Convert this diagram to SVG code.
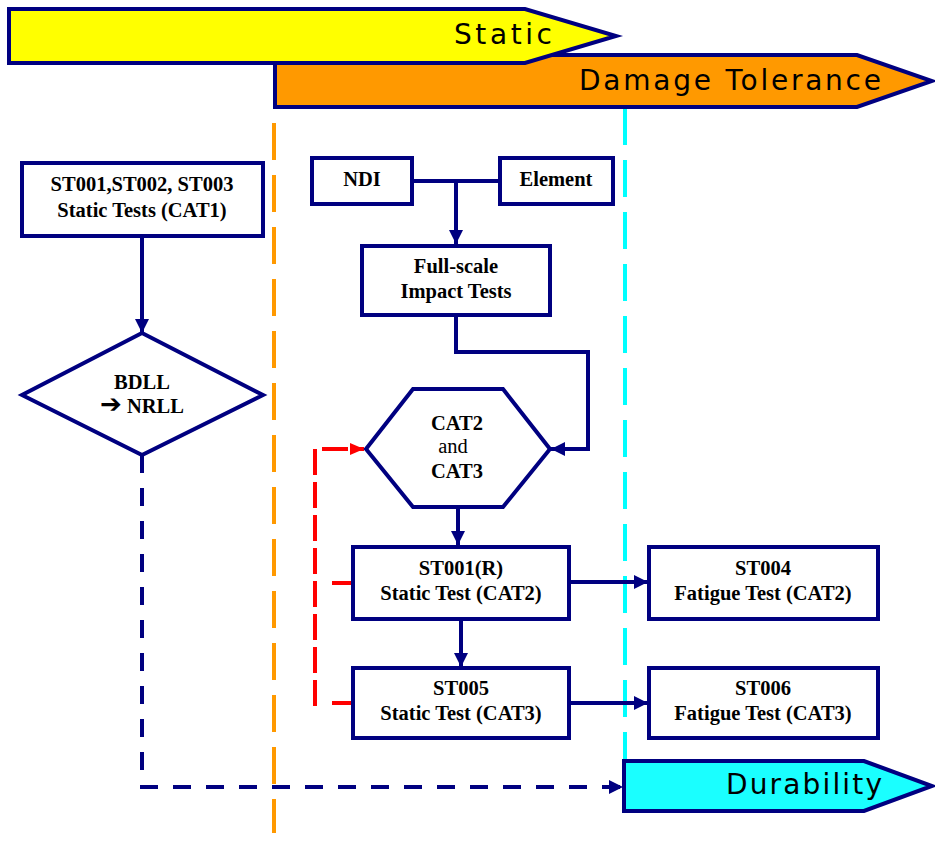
<svg xmlns="http://www.w3.org/2000/svg" width="935" height="846" viewBox="0 0 935 846">
<defs>
<style>
.box{fill:#fff;stroke:#000080;stroke-width:4}
.t{font-family:"Liberation Serif","Times New Roman",serif;font-weight:bold;font-size:20.5px;text-anchor:middle;fill:#000}
.n{font-weight:normal}
.conn{fill:none;stroke:#000080;stroke-width:4}
.banner{stroke:#000080;stroke-width:4}
.bt{font-family:"DejaVu Sans","Verdana",sans-serif;font-size:28px;fill:#000}
.guide{fill:none;stroke-width:4;stroke-dasharray:37 15}
</style>
<marker id="ah" markerUnits="userSpaceOnUse" markerWidth="15" markerHeight="14" refX="14" refY="7" orient="auto">
<path d="M0,0 L14,7 L0,14 z" fill="#000080"/>
</marker>
<marker id="ahr" markerUnits="userSpaceOnUse" markerWidth="15" markerHeight="14" refX="14" refY="7" orient="auto">
<path d="M0,1 L14,7 L0,13 z" fill="#ff0000"/>
</marker>
</defs>
<rect width="935" height="846" fill="#fff"/>

<g id="guides">
<line class="guide" x1="274" y1="123" x2="274" y2="833" stroke="#ff9900"/>
<line class="guide" x1="625" y1="108" x2="625" y2="760" stroke="#00ffff"/>
</g>

<g id="banner-damage">
<polygon class="banner" points="275,55 857,55 932,81 857,107 275,107" fill="#ff9900"/>
<text class="bt" x="579" y="90" textLength="302" lengthAdjust="spacing">Damage Tolerance</text>
</g>
<g id="banner-static">
<polygon class="banner" points="9,9 525,9 616,36 525,63 9,63" fill="#ffff00"/>
<text class="bt" x="454" y="44" textLength="98" lengthAdjust="spacing">Static</text>
</g>
<g id="banner-durability">
<polygon class="banner" points="624,761 864,761 932,786 864,811 624,811" fill="#1affff"/>
<text class="bt" x="726" y="794" textLength="156" lengthAdjust="spacing">Durability</text>
</g>

<g id="connectors">
<path class="conn" d="M142,236 V333" marker-end="url(#ah)"/>
<path class="conn" d="M412,181 H500"/>
<path class="conn" d="M456,181 V244" marker-end="url(#ah)"/>
<path class="conn" d="M456,315 V352 H588 V449 H551" marker-end="url(#ah)"/>
<path class="conn" d="M458,507 V545" marker-end="url(#ah)"/>
<path class="conn" d="M461,619 V667" marker-end="url(#ah)"/>
<path class="conn" d="M569,582 H648" marker-end="url(#ah)"/>
<path class="conn" d="M569,703 H648" marker-end="url(#ah)"/>
<path class="conn" d="M142,455 V787 H623" stroke-dasharray="18 15" marker-end="url(#ah)"/>
<path d="M315,706 V449 H364" fill="none" stroke="#ff0000" stroke-width="4" stroke-dasharray="26 7" marker-end="url(#ahr)"/>
<path d="M332,583 H352 M332,703 H352" fill="none" stroke="#ff0000" stroke-width="4"/>
</g>

<g id="st001-003">
<rect class="box" x="22" y="163" width="241" height="73"/>
<text class="t" x="142" y="191">ST001,ST002, ST003</text>
<text class="t" x="142" y="217">Static Tests (CAT1)</text>
</g>
<g id="bdll">
<polygon class="box" points="142,333 263,395 142,455 22,395"/>
<text class="t" x="142" y="389">BDLL</text>
<text class="t" x="142" y="413"><tspan font-family="DejaVu Sans, sans-serif" font-size="26">➔</tspan> NRLL</text>
</g>
<g id="ndi">
<rect class="box" x="312" y="158" width="100" height="46"/>
<text class="t" x="362" y="186">NDI</text>
</g>
<g id="element">
<rect class="box" x="500" y="158" width="113" height="46"/>
<text class="t" x="556" y="186">Element</text>
</g>
<g id="fullscale">
<rect class="box" x="362" y="246" width="188" height="69"/>
<text class="t" x="456" y="273">Full-scale</text>
<text class="t" x="456" y="298">Impact Tests</text>
</g>
<g id="cat23">
<polygon class="box" points="413,389 503,389 550,449 503,507 413,507 366,449"/>
<text class="t" x="457" y="430">CAT2</text>
<text class="t n" x="453" y="453">and</text>
<text class="t" x="457" y="478">CAT3</text>
</g>
<g id="st001r">
<rect class="box" x="353" y="547" width="216" height="72"/>
<text class="t" x="461" y="575">ST001(R)</text>
<text class="t" x="461" y="600">Static Test (CAT2)</text>
</g>
<g id="st004">
<rect class="box" x="649" y="547" width="229" height="72"/>
<text class="t" x="763" y="575">ST004</text>
<text class="t" x="763" y="600">Fatigue Test (CAT2)</text>
</g>
<g id="st005">
<rect class="box" x="353" y="668" width="216" height="70"/>
<text class="t" x="461" y="695">ST005</text>
<text class="t" x="461" y="720">Static Test (CAT3)</text>
</g>
<g id="st006">
<rect class="box" x="649" y="668" width="229" height="70"/>
<text class="t" x="763" y="695">ST006</text>
<text class="t" x="763" y="720">Fatigue Test (CAT3)</text>
</g>
</svg>
